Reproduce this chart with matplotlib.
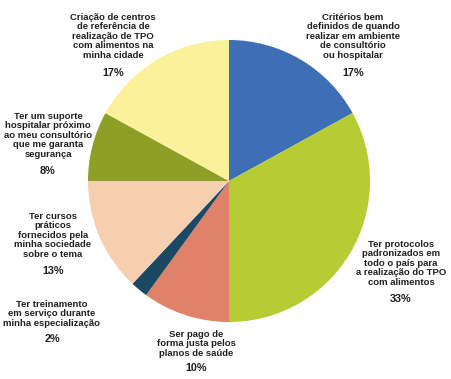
import matplotlib
matplotlib.use("Agg")
import matplotlib.pyplot as plt

labels = [
    "Critérios bem\ndefinidos de quando\nrealizar em ambiente\nde consultório\nou hospitalar",
    "Ter protocolos\npadronizados em\ntodo o país para\na realização do TPO\ncom alimentos",
    "Ser pago de\nforma justa pelos\nplanos de saúde",
    "Ter treinamento\nem serviço durante\nminha especialização",
    "Ter cursos\npráticos\nfornecidos pela\nminha sociedade\nsobre o tema",
    "Ter um suporte\nhospitalar próximo\nao meu consultório\nque me garanta\nsegurança",
    "Criação de centros\nde referência de\nrealização de TPO\ncom alimentos na\nminha cidade",
]
values = [17, 33, 10, 2, 13, 8, 17]
pct_labels = ["17%", "33%", "10%", "2%", "13%", "8%", "17%"]
colors = ["#3e6fb5", "#b5cc34", "#e0826a", "#1b4863", "#f6cfb1", "#8d9f26", "#fbf19b"]

# label anchor positions (pixel coords, top of text block) and percentage positions
label_pos = [(353, 13), (401, 240), (196, 330), (52, 300), (53, 212), (48, 112), (113, 13)]
pct_pos = [(353, 73), (401, 299), (196, 368), (52, 339), (53, 271), (48, 171), (113, 73)]

W, H = 452, 379
fig = plt.figure(figsize=(W / 100, H / 100), dpi=100)
ax = fig.add_axes([0, 0, 1, 1])

cx, cy, r = 229, H - 181, 141
ax.pie(values, colors=colors, startangle=90, counterclock=False,
       center=(cx, cy), radius=r, frame=True,
       wedgeprops=dict(linewidth=0))
ax.set_xlim(0, W)
ax.set_ylim(0, H)
ax.set_aspect("equal")
ax.axis("off")

font = "Liberation Sans"
for lab, (x, y) in zip(labels, label_pos):
    ax.text(x, H - y, lab, ha="center", va="top", fontsize=6.8,
            fontweight="bold", family=font, color="#231f20", linespacing=1.07)
for p, (x, y) in zip(pct_labels, pct_pos):
    ax.text(x, H - y, p, ha="center", va="center", fontsize=7.8,
            fontweight="bold", family=font, color="#231f20")

fig.savefig("out.png", dpi=100)
